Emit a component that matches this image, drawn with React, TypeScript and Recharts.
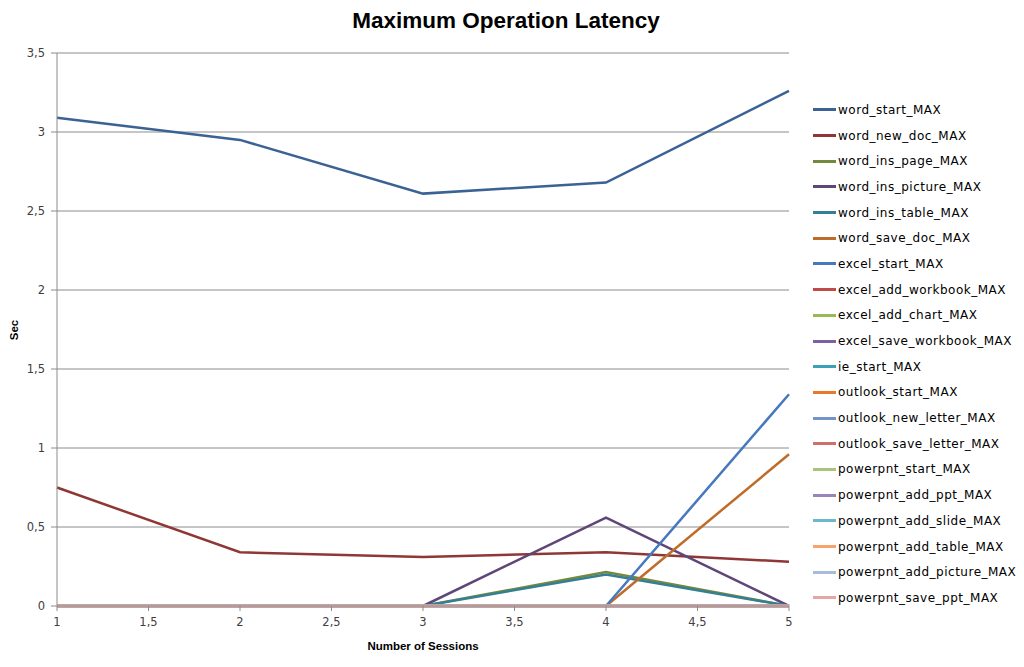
import { LineChart, Line, XAxis, YAxis, CartesianGrid } from "recharts";

const sessions = [1, 2, 3, 4, 5];

const wordStart = [3.09, 2.95, 2.61, 2.68, 3.26];
const wordNewDoc = [0.75, 0.34, 0.31, 0.34, 0.28];
const wordInsPage = [null, null, 0, 0.215, 0];
const wordInsPicture = [null, null, 0, 0.56, 0];
const wordInsTable = [null, null, 0, 0.2, 0];
const wordSaveDoc = [null, null, null, 0, 0.96];
const excelStart = [null, null, null, 0, 1.34];
const zeros = [0, 0, 0, 0, 0];

const xTicks = [1, 1.5, 2, 2.5, 3, 3.5, 4, 4.5, 5];
const yTicks = [0, 0.5, 1, 1.5, 2, 2.5, 3, 3.5];

const SERIES: { key: string; values: (number | null)[]; color: string }[] = [
  { key: "word_start_MAX", values: wordStart, color: "#3a6293" },
  { key: "word_new_doc_MAX", values: wordNewDoc, color: "#8e3735" },
  { key: "word_ins_page_MAX", values: wordInsPage, color: "#73893e" },
  { key: "word_ins_picture_MAX", values: wordInsPicture, color: "#5e4778" },
  { key: "word_ins_table_MAX", values: wordInsTable, color: "#347f93" },
  { key: "word_save_doc_MAX", values: wordSaveDoc, color: "#bf6c2a" },
  { key: "excel_start_MAX", values: excelStart, color: "#4578bd" },
  { key: "excel_add_workbook_MAX", values: zeros, color: "#be4b48" },
  { key: "excel_add_chart_MAX", values: zeros, color: "#98b954" },
  { key: "excel_save_workbook_MAX", values: zeros, color: "#7d60a0" },
  { key: "ie_start_MAX", values: zeros, color: "#3e9fb8" },
  { key: "outlook_start_MAX", values: zeros, color: "#e8782a" },
  { key: "outlook_new_letter_MAX", values: zeros, color: "#7393c9" },
  { key: "outlook_save_letter_MAX", values: zeros, color: "#cf6f6d" },
  { key: "powerpnt_start_MAX", values: zeros, color: "#a7c57f" },
  { key: "powerpnt_add_ppt_MAX", values: zeros, color: "#9a84b8" },
  { key: "powerpnt_add_slide_MAX", values: zeros, color: "#6fb7cd" },
  { key: "powerpnt_add_table_MAX", values: zeros, color: "#f9a26a" },
  { key: "powerpnt_add_picture_MAX", values: zeros, color: "#a9bddb" },
  { key: "powerpnt_save_ppt_MAX", values: zeros, color: "#e2a7a6" },
];

const data = sessions.map((s, i) => {
  const row: Record<string, number | null> = { x: s };
  SERIES.forEach((sr) => {
    row[sr.key] = sr.values[i];
  });
  return row;
});

const comma = (v: number) => String(v).replace(".", ",");

const tickStyle = { fontSize: 11.5, fill: "#404040", fontFamily: "DejaVu Sans" };

export default function App() {
  return (
    <div
      style={{
        position: "absolute",
        left: 0,
        top: 0,
        width: 1024,
        height: 667,
        background: "#fff",
        fontFamily: "DejaVu Sans",
      }}
    >
      <div
        style={{
          position: "absolute",
          left: 0,
          top: 8,
          width: 1012,
          textAlign: "center",
          fontFamily: "Liberation Sans",
          fontWeight: "bold",
          fontSize: 22.5,
          color: "#000",
        }}
      >
        Maximum Operation Latency
      </div>
      <LineChart
        width={1024}
        height={667}
        data={data}
        margin={{ top: 53, right: 235, bottom: 0, left: 0 }}
      >
        <CartesianGrid vertical={false} stroke="#8c8c8c" />
        <XAxis
          dataKey="x"
          type="number"
          domain={[1, 5]}
          ticks={xTicks}
          tickFormatter={comma}
          stroke="#8c8c8c"
          tick={tickStyle}
          tickSize={5}
          tickMargin={7}
          height={61}
          interval={0}
        />
        <YAxis
          type="number"
          domain={[0, 3.5]}
          ticks={yTicks}
          tickFormatter={comma}
          stroke="#8c8c8c"
          tick={tickStyle}
          tickSize={6}
          tickMargin={6}
          width={57}
          interval={0}
        />
        {SERIES.map((s) => (
          <Line
            key={s.key}
            dataKey={s.key}
            type="linear"
            stroke={s.color}
            strokeWidth={2.5}
            dot={false}
            isAnimationActive={false}
          />
        ))}
      </LineChart>
      <div
        style={{
          position: "absolute",
          left: 0,
          top: 640,
          width: 846,
          textAlign: "center",
          fontFamily: "Liberation Sans",
          fontWeight: "bold",
          fontSize: 11.5,
          color: "#000",
        }}
      >
        Number of Sessions
      </div>
      <div
        style={{
          position: "absolute",
          left: 4,
          top: 324,
          transform: "rotate(-90deg)",
          fontFamily: "Liberation Sans",
          fontWeight: "bold",
          fontSize: 11.5,
          color: "#000",
        }}
      >
        Sec
      </div>
      <div style={{ position: "absolute", left: 813, top: 97 }}>
        {SERIES.map((s) => (
          <div
            key={s.key}
            style={{ display: "flex", alignItems: "center", height: 25.7 }}
          >
            <div style={{ width: 23, height: 3, background: s.color }} />
            <span
              style={{
                fontSize: 12,
                letterSpacing: 0.5,
                color: "#000",
                marginLeft: 2,
              }}
            >
              {s.key}
            </span>
          </div>
        ))}
      </div>
    </div>
  );
}
